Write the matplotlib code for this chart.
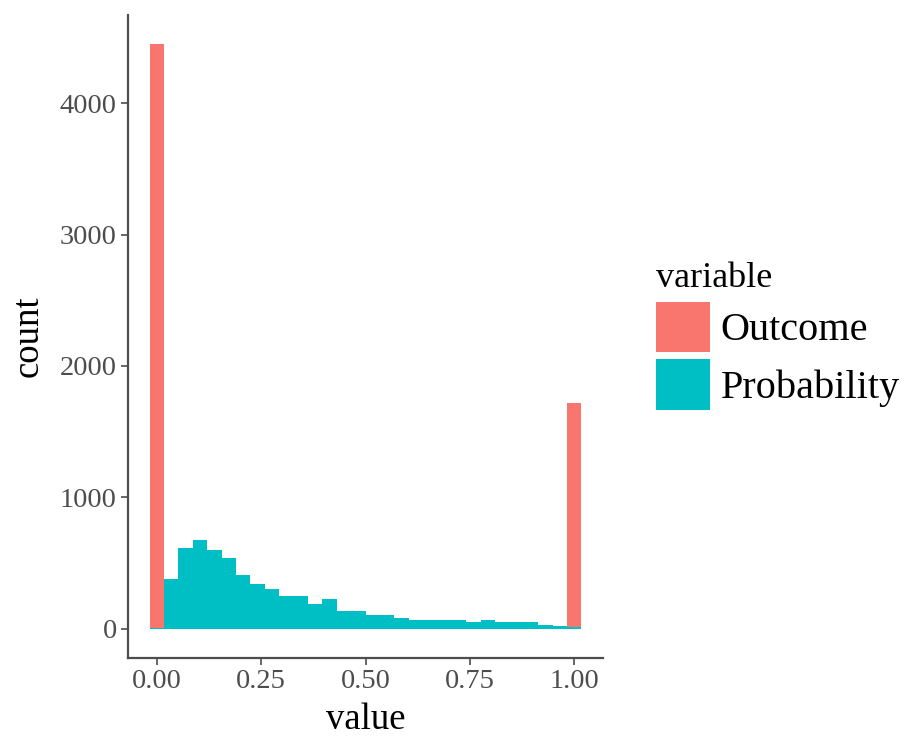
import numpy as np
import matplotlib
matplotlib.use("Agg")
import matplotlib.pyplot as plt
from matplotlib.patches import Patch

plt.rcParams["font.family"] = ["Liberation Serif", "DejaVu Serif"]

# ggplot-style histogram, 30 bins over [0, 1]
N_BINS = 30
outcome = [4441, 0, 0, 0, 0, 0, 0, 0, 0, 0,
           0, 0, 0, 0, 0, 0, 0, 0, 0, 0,
           0, 0, 0, 0, 0, 0, 0, 0, 0, 1705]
probability = [8, 378, 616, 672, 598, 542, 413, 340, 304, 249,
               249, 192, 230, 137, 139, 104, 104, 84, 63, 63,
               63, 63, 48, 63, 48, 48, 48, 28, 22, 17]
groups = ["Outcome", "Probability"]
colors = ["#F8766D", "#00BFC4"]

bw = 1 / (N_BINS - 1)
edges = np.arange(N_BINS + 1) * bw - bw / 2
prob = np.array(probability, dtype=float)
outc = np.array(outcome, dtype=float)

fig = plt.figure(figsize=(9.17, 7.45), dpi=100, facecolor="white")
ax = fig.add_axes([128 / 917, 1 - 658 / 745, (603 - 128) / 917, (658 - 15) / 745])

# stacked: Probability at bottom, Outcome on top
ax.stairs(prob, edges, baseline=0, fill=True, color=colors[1], lw=0)
ax.stairs(prob + outc, edges, baseline=prob, fill=True, color=colors[0], lw=0)

top = (prob + outc).max()
span = edges[-1] - edges[0]
ax.set_xlim(edges[0] - 0.05 * span, edges[-1] + 0.05 * span)
ax.set_ylim(-0.05 * top, top * 1.05)

ax.set_xticks([0, 0.25, 0.5, 0.75, 1.0])
ax.set_xticklabels(["0.00", "0.25", "0.50", "0.75", "1.00"])
ax.set_yticks([0, 1000, 2000, 3000, 4000])

for s in ["top", "right"]:
    ax.spines[s].set_visible(False)
for s in ["left", "bottom"]:
    ax.spines[s].set_color("#4D4D4D")
    ax.spines[s].set_linewidth(1.6)
ax.tick_params(colors="#4D4D4D", labelcolor="#4D4D4D", labelsize=20.5,
               length=5, width=1.2, pad=3)

ax.set_xlabel("value", fontsize=26.5, labelpad=6)
ax.set_ylabel("count", fontsize=26.5, labelpad=10)

handles = [Patch(facecolor=c, edgecolor="none") for c in colors]
leg = fig.legend(handles, groups, title="variable", loc="upper left",
                 bbox_to_anchor=(656 / 917, 1 - 262 / 745), frameon=False,
                 fontsize=29, title_fontsize=26, handlelength=54 / 40,
                 handleheight=1.55, handletextpad=10 / 40,
                 labelspacing=0.17, borderpad=0, borderaxespad=0,
                 alignment="left")

fig.savefig("out.png", dpi=100, facecolor="white")
